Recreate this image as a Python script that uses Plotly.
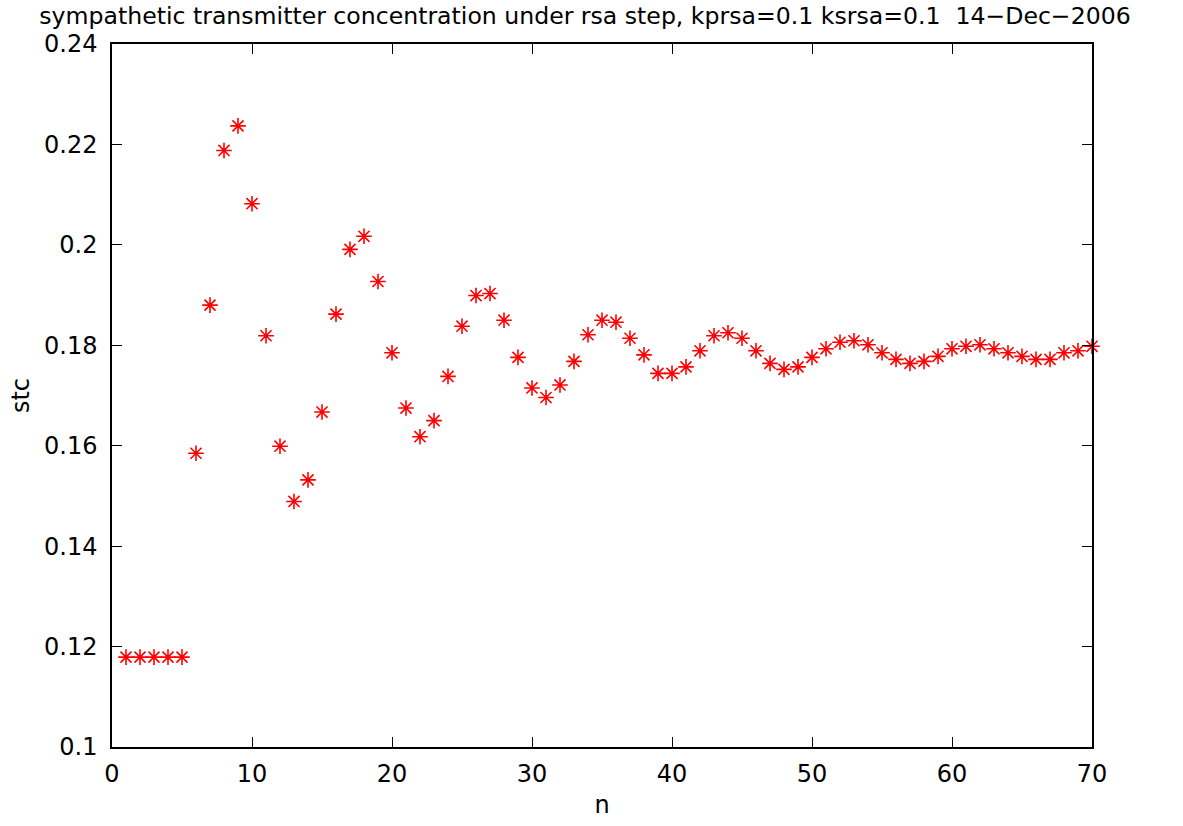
import plotly.graph_objects as go

# data
n = list(range(1, 71))
stc = [0.1179, 0.1179, 0.1179, 0.1179, 0.1179,
       0.1585, 0.1880, 0.2188, 0.2237, 0.2082,
       0.1819, 0.1599, 0.1489, 0.1532, 0.1667,
       0.1862, 0.1991, 0.2017, 0.1927, 0.1785,
       0.1675, 0.1618, 0.1650, 0.1738, 0.1838,
       0.1899, 0.1903, 0.1850, 0.1776, 0.1715,
       0.1696, 0.1721, 0.1768, 0.1821, 0.1850,
       0.1846, 0.1814, 0.1781, 0.1744, 0.1744,
       0.1757, 0.1789, 0.1819, 0.1825, 0.1814,
       0.1789, 0.1764, 0.1752, 0.1757, 0.1776,
       0.1793, 0.1806, 0.1809, 0.1801, 0.1785,
       0.1772, 0.1764, 0.1768, 0.1778, 0.1793,
       0.1798, 0.1801, 0.1793, 0.1785, 0.1778,
       0.1772, 0.1772, 0.1785, 0.1789, 0.1798]

x_ticks = [0, 10, 20, 30, 40, 50, 60, 70]
y_ticks = [0.1, 0.12, 0.14, 0.16, 0.18, 0.2, 0.22, 0.24]
y_ticktext = ["0.1", "0.12", "0.14", "0.16", "0.18", "0.2", "0.22", "0.24"]

title_text = "sympathetic transmitter concentration under rsa step, kprsa=0.1 ksrsa=0.1 \u00a014\u2212Dec\u22122006"

FONT = "DejaVu Sans"

fig = go.Figure()
fig.add_trace(go.Scatter(
    x=n, y=stc, mode="markers",
    marker=dict(symbol="asterisk-open", size=13, color="#ff0000",
                line=dict(width=1.6, color="#ff0000")),
    showlegend=False, cliponaxis=False,
))

axis_common = dict(
    showline=True, linecolor="black", linewidth=1.5, mirror="ticks",
    ticks="inside", ticklen=10, tickwidth=1, tickcolor="black",
    showgrid=False, zeroline=False,
    tickfont=dict(family=FONT, size=24, color="black"),
)

fig.update_layout(
    width=1183, height=826,
    margin=dict(l=112, r=91, t=44, b=69, pad=0),
    paper_bgcolor="white", plot_bgcolor="white",
    font=dict(family=FONT, size=24, color="black"),
    title=dict(text=title_text, x=585 / 1183, xref="container", xanchor="center",
               y=1 - 16 / 826, yref="container", yanchor="middle",
               font=dict(family=FONT, size=23.6, color="black")),
    xaxis=dict(range=[0, 70], tickvals=x_ticks,
               title=dict(text="n", standoff=10, font=dict(family=FONT, size=24)),
               ticklabelstandoff=4, **axis_common),
    yaxis=dict(range=[0.1, 0.24], tickvals=y_ticks, ticktext=y_ticktext,
               title=dict(text="stc", standoff=8, font=dict(family=FONT, size=24)),
               ticklabelstandoff=8, **axis_common),
)

fig.write_html("out.html")
